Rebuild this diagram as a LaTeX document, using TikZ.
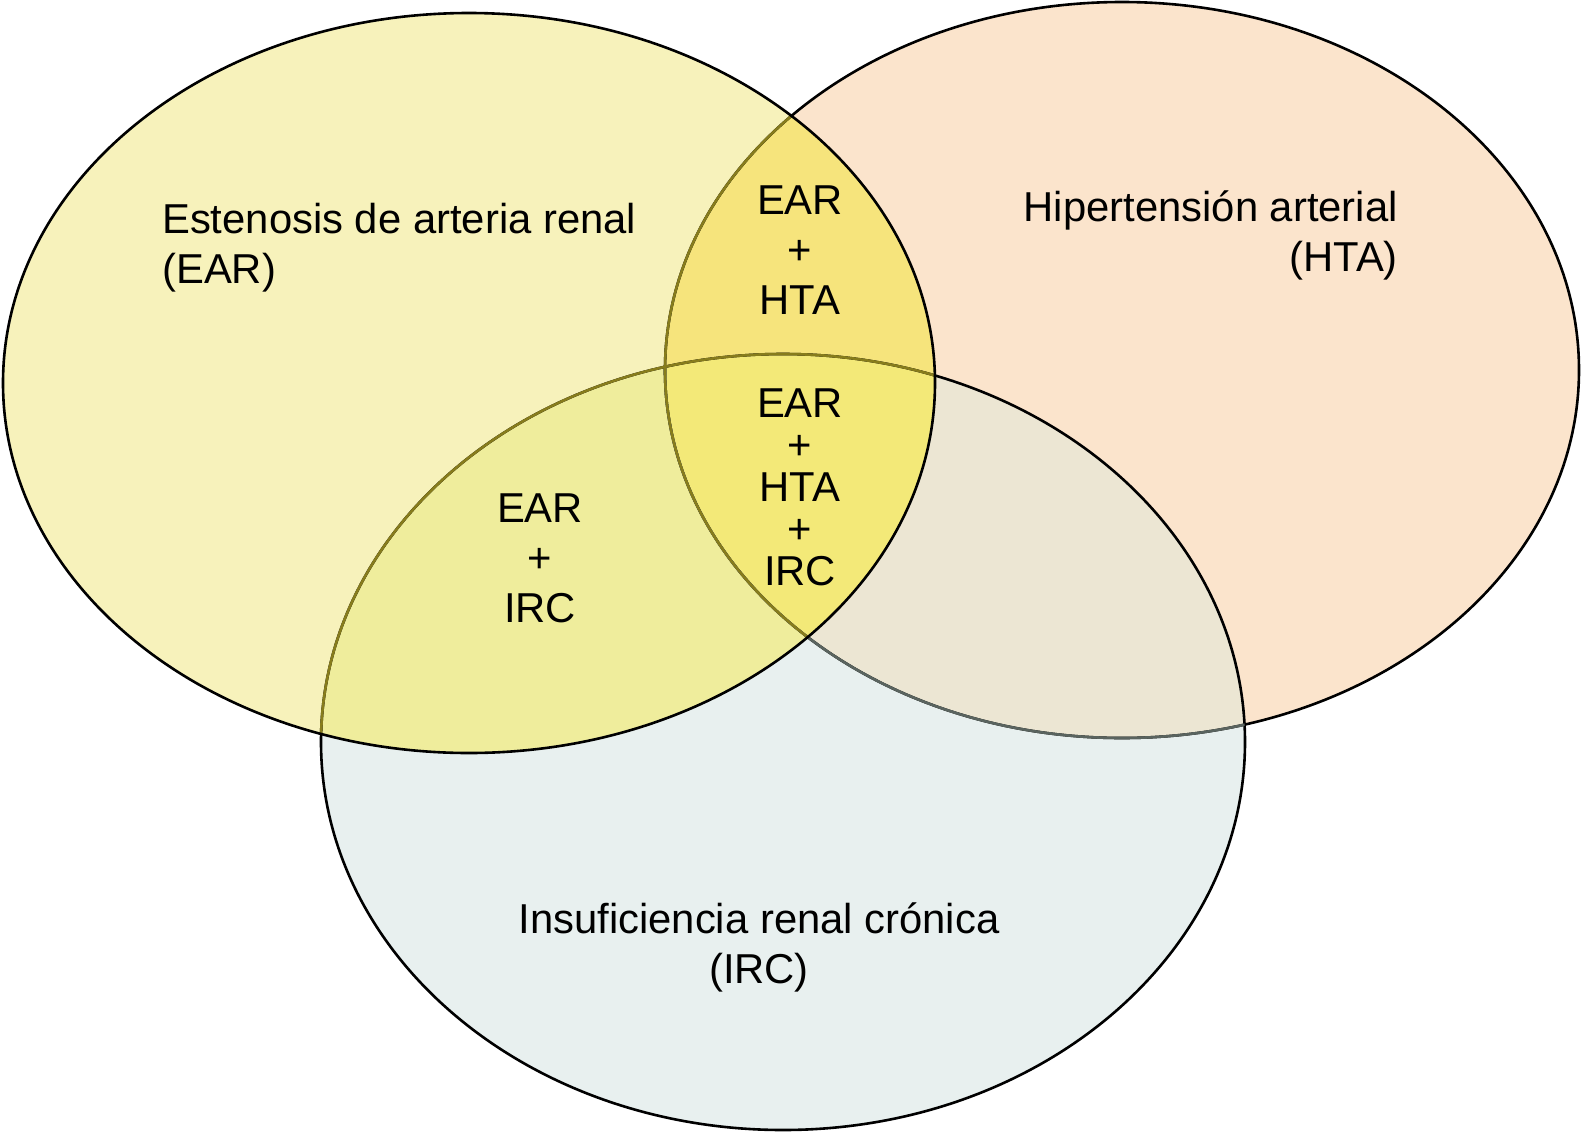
\documentclass[tikz,border=0pt]{standalone}
\usepackage{fontspec}
\setmainfont{Liberation Sans}
\definecolor{earC}{RGB}{247,242,187}
\definecolor{htaC}{RGB}{251,228,204}
\definecolor{ircC}{RGB}{232,240,239}
\definecolor{earhtaC}{RGB}{246,228,124}
\definecolor{earircC}{RGB}{239,237,156}
\definecolor{tripleC}{RGB}{243,233,120}
\definecolor{htaircC}{RGB}{236,230,211}
\definecolor{oliveline}{RGB}{135,124,28}
\definecolor{grayline}{RGB}{90,100,95}
\def\EARshape{(469,383) ellipse [x radius=466pt, y radius=370pt]}
\def\HTAshape{(1122,370) ellipse [x radius=457pt, y radius=368pt]}
\def\IRCshape{(783,742) ellipse [x radius=462pt, y radius=388pt]}
\tikzset{
  outl/.style={line width=2.6pt},
  lbl/.style={font=\fontsize{41.8}{50}\selectfont, inner sep=0pt, text=black},
  tight/.style={font=\fontsize{41.8}{42}\selectfont, inner sep=0pt, text=black}
}
\begin{document}
\begin{tikzpicture}[x=1pt,y=-1pt]
\useasboundingbox (0,0) rectangle (1583,1133);
\fill[white] (0,0) rectangle (1583,1133);
% fills
\fill[htaC] \HTAshape;
\fill[ircC] \IRCshape;
\begin{scope}
  \clip \HTAshape;
  \fill[htaircC] \IRCshape;
\end{scope}
\fill[earC] \EARshape;
\begin{scope}
  \clip \EARshape;
  \fill[earhtaC] \HTAshape;
  \fill[earircC] \IRCshape;
  \begin{scope}
    \clip \HTAshape;
    \fill[tripleC] \IRCshape;
  \end{scope}
\end{scope}
% outlines
\draw[outl, black] \IRCshape;
\draw[outl, black] \HTAshape;
\begin{scope}
  \clip \IRCshape;
  \draw[outl, grayline] \HTAshape;
\end{scope}
\begin{scope}
  \clip \EARshape;
  \draw[outl, oliveline] \HTAshape;
  \draw[outl, oliveline] \IRCshape;
\end{scope}
\draw[outl, black] \EARshape;
% labels
\node[lbl, anchor=west, align=left] (ear) at (162,248) {Estenosis de arteria renal\\(EAR)};
\node[lbl, anchor=east, align=right] (hta) at (1398,235) {Hipertensión arterial\\(HTA)};
\node[lbl, align=center] (irc) at (759,947) {Insuficiencia renal crónica\\(IRC)};
\node[lbl, align=center] (earhta) at (800,250) {EAR\\+\\HTA};
\node[lbl, align=center] (earirc) at (540,558) {EAR\\+\\IRC};
\node[tight, align=center] (triple) at (800,487) {EAR\\+\\HTA\\+\\IRC};
\end{tikzpicture}
\end{document}
